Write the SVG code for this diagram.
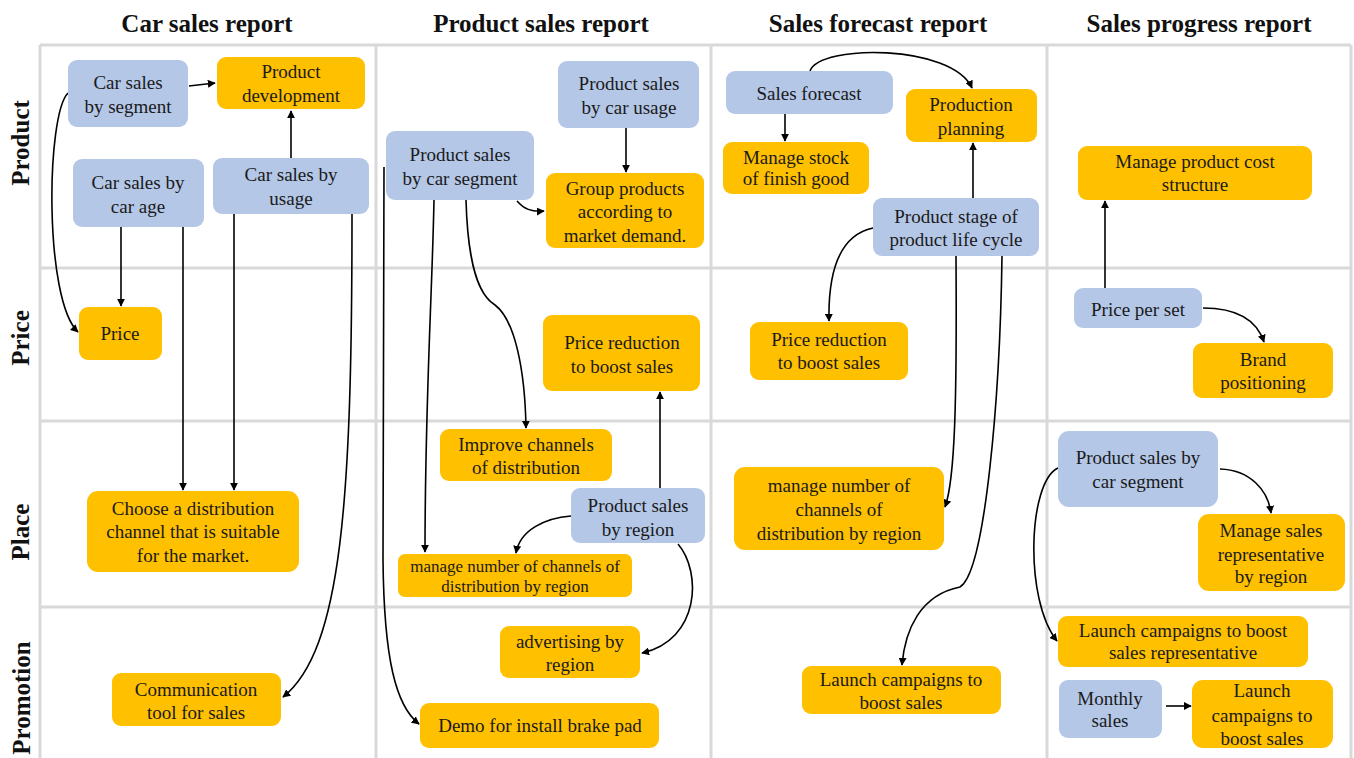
<svg xmlns="http://www.w3.org/2000/svg" width="1354" height="758" viewBox="0 0 1354 758">
<defs>
<marker id="ah" viewBox="0 0 10 10" refX="9" refY="5" markerWidth="8" markerHeight="8" markerUnits="userSpaceOnUse" orient="auto">
<path d="M0,0 L10,5 L0,10 z" fill="#000"/>
</marker>
<style>
.grid line{stroke:#d9d9d9;stroke-width:3}
.title{font-family:"Liberation Serif",serif;font-weight:bold;font-size:25px;fill:#111;text-anchor:middle}
.row{font-family:"Liberation Serif",serif;font-weight:bold;font-size:25px;fill:#111;text-anchor:middle}
.b rect{fill:#b4c7e7}
.o rect{fill:#ffc000}
.node text{font-family:"Liberation Serif",serif;font-size:19px;fill:#1a1a1a;text-anchor:middle}
.node text.s{font-size:17px}
.conn path{fill:none;stroke:#000;stroke-width:1.6;marker-end:url(#ah)}
</style>
</defs>
<rect width="1354" height="758" fill="#fff"/>
<g class="grid">
<line x1="40" y1="45" x2="1351" y2="45"/>
<line x1="40" y1="268" x2="1351" y2="268"/>
<line x1="40" y1="421" x2="1351" y2="421"/>
<line x1="40" y1="607" x2="1351" y2="607"/>
<line x1="40" y1="45" x2="40" y2="758"/>
<line x1="376" y1="45" x2="376" y2="758"/>
<line x1="711" y1="45" x2="711" y2="758"/>
<line x1="1047" y1="45" x2="1047" y2="758"/>
<line x1="1351" y1="45" x2="1351" y2="758"/>
</g>
<g id="titles">
<text class="title" x="207" y="32">Car sales report</text>
<text class="title" x="541" y="32">Product sales report</text>
<text class="title" x="878" y="32">Sales forecast report</text>
<text class="title" x="1199" y="32">Sales progress report</text>
</g>
<g id="rowlabels">
<text class="row" transform="translate(29,143) rotate(-90)">Product</text>
<text class="row" transform="translate(29,338) rotate(-90)">Price</text>
<text class="row" transform="translate(29,532) rotate(-90)">Place</text>
<text class="row" transform="translate(30,698) rotate(-90)">Promotion</text>
</g>
<g class="conn" id="connectors">
<path d="M189,86 L215,83"/>
<path d="M291,158 L291,111"/>
<path d="M68,93 C46,115 44,300 78,332"/>
<path d="M121,227 L121,306"/>
<path d="M183,227 L183,490"/>
<path d="M234,214 L234,490"/>
<path d="M352,214 C352,500 342,650 283,697"/>
<path d="M626,128 L626,172"/>
<path d="M517,201 C524,209 531,212 544,211"/>
<path d="M384,167 L383,560 C384,660 396,706 419,724"/>
<path d="M434,200 C432,300 425,400 425,552"/>
<path d="M466,200 C468,270 480,296 495,305 C515,320 525,370 526,428"/>
<path d="M660,488 L660,392"/>
<path d="M571,516 C545,518 520,530 516,553"/>
<path d="M678,544 C702,572 700,640 642,653"/>
<path d="M810,71 C820,44 952,44 972,88"/>
<path d="M785,114 L785,141"/>
<path d="M973,198 L973,143"/>
<path d="M873,228 C840,235 828,270 829,321"/>
<path d="M956,256 C957,400 955,480 945,507"/>
<path d="M1002,256 C1000,400 985,572 960,587 C920,595 905,630 902,665"/>
<path d="M1105,288 L1105,201"/>
<path d="M1203,308 C1235,308 1256,318 1264,342"/>
<path d="M1220,469 C1250,470 1268,490 1271,513"/>
<path d="M1058,468 C1028,482 1024,600 1057,641"/>
<path d="M1166,706 L1191,706"/>
</g>
<g id="n-carseg" class="node b"><rect x="68" y="60" width="120" height="67" rx="9"/><text x="128" y="89">Car sales</text><text x="128" y="113">by segment</text></g>
<g id="n-proddev" class="node o"><rect x="217" y="57" width="148" height="52" rx="9"/><text x="291" y="78">Product</text><text x="291" y="102">development</text></g>
<g id="n-carage" class="node b"><rect x="73" y="159" width="131" height="68" rx="9"/><text x="138" y="189">Car sales by</text><text x="138" y="213">car age</text></g>
<g id="n-carusage" class="node b"><rect x="213" y="158" width="156" height="56" rx="9"/><text x="291" y="181">Car sales by</text><text x="291" y="205">usage</text></g>
<g id="n-price" class="node o"><rect x="79" y="307" width="83" height="53" rx="9"/><text x="120" y="340">Price</text></g>
<g id="n-choose" class="node o"><rect x="87" y="491" width="212" height="81" rx="11"/><text x="193" y="515">Choose a distribution</text><text x="193" y="538">channel that is suitable</text><text x="193" y="562">for the market.</text></g>
<g id="n-comm" class="node o"><rect x="112" y="673" width="169" height="53" rx="9"/><text x="196" y="696">Communication</text><text x="196" y="719">tool for sales</text></g>
<g id="n-psusage" class="node b"><rect x="558" y="61" width="141" height="67" rx="9"/><text x="629" y="90">Product sales</text><text x="629" y="114">by car usage</text></g>
<g id="n-psseg" class="node b"><rect x="386" y="131" width="148" height="69" rx="9"/><text x="460" y="161">Product sales</text><text x="460" y="185">by car segment</text></g>
<g id="n-group" class="node o"><rect x="546" y="173" width="158" height="75" rx="9"/><text x="625" y="195">Group products</text><text x="625" y="218">according to</text><text x="625" y="242">market demand.</text></g>
<g id="n-pricered2" class="node o"><rect x="543" y="315" width="157" height="76" rx="9"/><text x="622" y="349">Price reduction</text><text x="622" y="373">to boost sales</text></g>
<g id="n-improve" class="node o"><rect x="440" y="429" width="172" height="52" rx="9"/><text x="526" y="451">Improve channels</text><text x="526" y="474">of distribution</text></g>
<g id="n-region" class="node b"><rect x="571" y="488" width="134" height="55" rx="9"/><text x="638" y="512">Product sales</text><text x="638" y="536">by region</text></g>
<g id="n-managenum2" class="node o"><rect x="398" y="554" width="234" height="43" rx="7"/><text class="s" x="515" y="572">manage number of channels of</text><text class="s" x="515" y="592">distribution by region</text></g>
<g id="n-advert" class="node o"><rect x="500" y="626" width="140" height="52" rx="9"/><text x="570" y="648">advertising by</text><text x="570" y="671">region</text></g>
<g id="n-demo" class="node o"><rect x="420" y="703" width="239" height="45" rx="9"/><text x="540" y="732">Demo for install brake pad</text></g>
<g id="n-forecast" class="node b"><rect x="726" y="71" width="167" height="43" rx="9"/><text x="809" y="100">Sales forecast</text></g>
<g id="n-prodplan" class="node o"><rect x="906" y="89" width="131" height="53" rx="9"/><text x="971" y="111">Production</text><text x="971" y="135">planning</text></g>
<g id="n-stock" class="node o"><rect x="723" y="142" width="146" height="52" rx="9"/><text x="796" y="164">Manage stock</text><text x="796" y="185">of finish good</text></g>
<g id="n-stage" class="node b"><rect x="873" y="198" width="166" height="58" rx="9"/><text x="956" y="223">Product stage of</text><text x="956" y="246">product life cycle</text></g>
<g id="n-pricered3" class="node o"><rect x="750" y="322" width="158" height="58" rx="9"/><text x="829" y="346">Price reduction</text><text x="829" y="369">to boost sales</text></g>
<g id="n-managenum3" class="node o"><rect x="734" y="467" width="210" height="83" rx="11"/><text x="839" y="492">manage number of</text><text x="839" y="516">channels of</text><text x="839" y="540">distribution by region</text></g>
<g id="n-launch3" class="node o"><rect x="802" y="666" width="199" height="48" rx="9"/><text x="901" y="686">Launch campaigns to</text><text x="901" y="709">boost sales</text></g>
<g id="n-cost" class="node o"><rect x="1078" y="146" width="234" height="54" rx="9"/><text x="1195" y="168">Manage product cost</text><text x="1195" y="191">structure</text></g>
<g id="n-priceper" class="node b"><rect x="1074" y="288" width="128" height="40" rx="9"/><text x="1138" y="316">Price per set</text></g>
<g id="n-brand" class="node o"><rect x="1193" y="343" width="140" height="55" rx="9"/><text x="1263" y="366">Brand</text><text x="1263" y="389">positioning</text></g>
<g id="n-seg4" class="node b"><rect x="1058" y="431" width="160" height="76" rx="11"/><text x="1138" y="464">Product sales by</text><text x="1138" y="488">car segment</text></g>
<g id="n-salesrep" class="node o"><rect x="1198" y="514" width="147" height="77" rx="11"/><text x="1271" y="537">Manage sales</text><text x="1271" y="561">representative</text><text x="1271" y="583">by region</text></g>
<g id="n-launchrep" class="node o"><rect x="1058" y="616" width="250" height="51" rx="9"/><text x="1183" y="637">Launch campaigns to boost</text><text x="1183" y="659">sales representative</text></g>
<g id="n-monthly" class="node b"><rect x="1059" y="680" width="103" height="58" rx="9"/><text x="1110" y="705">Monthly</text><text x="1110" y="727">sales</text></g>
<g id="n-launch4" class="node o"><rect x="1192" y="680" width="141" height="68" rx="11"/><text x="1262" y="697">Launch</text><text x="1262" y="722">campaigns to</text><text x="1262" y="745">boost sales</text></g>
</svg>
